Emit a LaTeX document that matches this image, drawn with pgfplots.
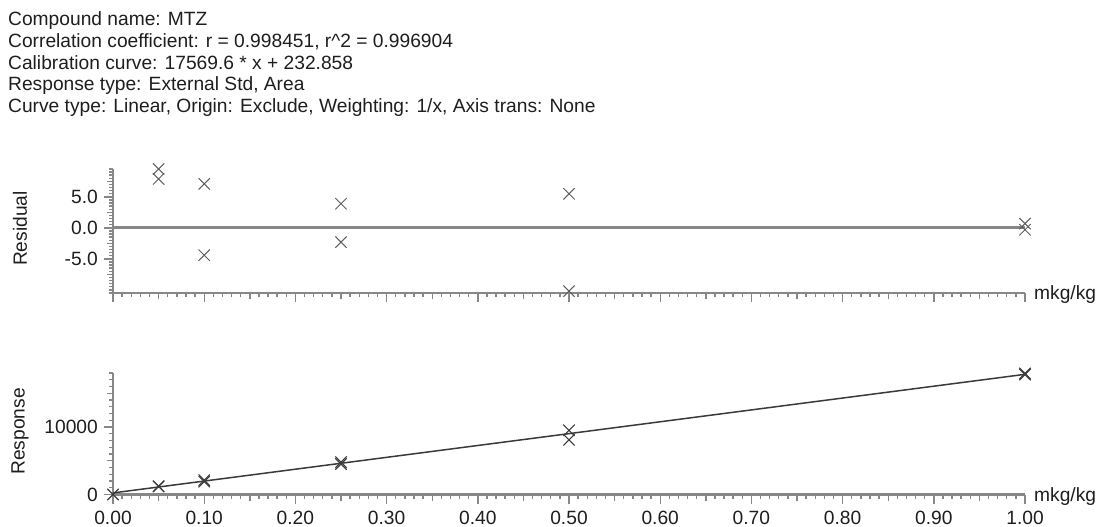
\documentclass[border=0pt]{standalone}
\usepackage{fontspec}
\setmainfont{Liberation Sans}
\usepackage{pgfplots}
\pgfplotsset{compat=1.18}

\definecolor{axisgray}{HTML}{878787}
\definecolor{markgray}{HTML}{5E5E5E}
\definecolor{fitline}{HTML}{3A3A3A}
\definecolor{txt}{HTML}{1E1E1E}
\newcommand\cf{\fontsize{19.2bp}{21.6bp}\selectfont}

\pgfplotsset{
  calaxis/.style={
    scale only axis, width=912bp,
    xmin=0, xmax=1, clip=false,
    scaled y ticks=false,
    axis x line*=bottom, axis y line*=left,
    axis line style={-, draw=axisgray, line width=2.8bp},
    tick align=outside,
    tick style={draw=axisgray, line width=1.4bp},
    major tick length=9bp, minor tick length=4bp,
    xtick={0,0.1,0.2,0.3,0.4,0.5,0.6,0.7,0.8,0.9,1},
    minor x tick num=9,
    extra x ticks={0.05,0.15,0.25,0.35,0.45,0.55,0.65,0.75,0.85,0.95},
    extra x tick labels={},
    extra x tick style={major tick length=6.5bp},
    extra y tick labels={},
    extra y tick style={major tick length=6.5bp},
    tick label style={font=\cf, text=txt},
    xticklabel style={anchor=north, inner sep=0pt, yshift=-7.5bp},
    yticklabel style={anchor=east, inner sep=0pt, xshift=-6bp},
    every axis y label/.style={at={(axis description cs:0,0.52)}, xshift=-93bp,
      rotate=90, anchor=center, font=\cf, text=txt},
    every axis x label/.style={at={(axis description cs:1,0)}, anchor=west,
      xshift=9bp, yshift=-2bp, inner sep=0pt, font=\cf, text=txt},
  }
}

\begin{document}
\begin{tikzpicture}
\useasboundingbox (0,0) rectangle (1099bp,527bp);

\begin{scope}[every node/.style={anchor=base west, inner sep=0pt, font=\cf, text=txt}]
\node at (8bp,501bp) {Compound name: MTZ};
\node at (8bp,479.4bp) {Correlation coefficient: r = 0.998451, r\textasciicircum 2 = 0.996904};
\node at (8bp,457.8bp) {Calibration curve: 17569.6 * x + 232.858};
\node at (8bp,436.2bp) {Response type: External Std, Area};
\node at (8bp,414.6bp) {Curve type: Linear, Origin: Exclude, Weighting: 1/x, Axis trans: None};
\end{scope}

% residual panel
\begin{axis}[calaxis,
  at={(113bp,234bp)}, anchor=south west, height=124bp,
  ymin=-10.5, ymax=9.5,
  ytick={-5,0,5}, yticklabels={-5.0,0.0,5.0},
  minor ytick={-10.5,-10,...,9.5},
  extra y ticks={-7.5,-2.5,2.5,7.5},
  xticklabels={},
  ylabel={Residual}, xlabel={mkg/kg},
]
\addplot[axisgray, line width=2.8bp] coordinates {(0,0) (1,0)};
\addplot[only marks, mark=x, mark size=8bp, markgray, line width=1bp]
coordinates {
  (0.05,9.5) (0.05,7.9)
  (0.10,7.1) (0.10,-4.4)
  (0.25,3.9) (0.25,-2.3)
  (0.50,5.5) (0.50,-10.2)
  (1.00,0.7) (1.00,-0.3)
};
\end{axis}

% response panel
\begin{axis}[calaxis,
  at={(113bp,32.5bp)}, anchor=south west, height=121.5bp,
  ymin=0, ymax=18000,
  ytick={0,10000}, yticklabels={0,10000},
  minor ytick={0,1000,...,18000},
  extra y ticks={5000,15000},
  xticklabels={0.00,0.10,0.20,0.30,0.40,0.50,0.60,0.70,0.80,0.90,1.00},
  ylabel={Response}, xlabel={mkg/kg},
]
\addplot[fitline, line width=1.5bp] coordinates {(0,232.858) (1,17802.458)};
\addplot[only marks, mark=x, mark size=8bp, fitline, line width=1.1bp]
coordinates {
  (0,0)
  (0.05,1216.9) (0.05,1199.1)
  (0.10,2131.1) (0.10,1902.3)
  (0.25,4805.6) (0.25,4518.9)
  (0.50,9513.6) (0.50,8097.8)
  (1.00,17927.1) (1.00,17749.1)
};
\end{axis}
\end{tikzpicture}
\end{document}
